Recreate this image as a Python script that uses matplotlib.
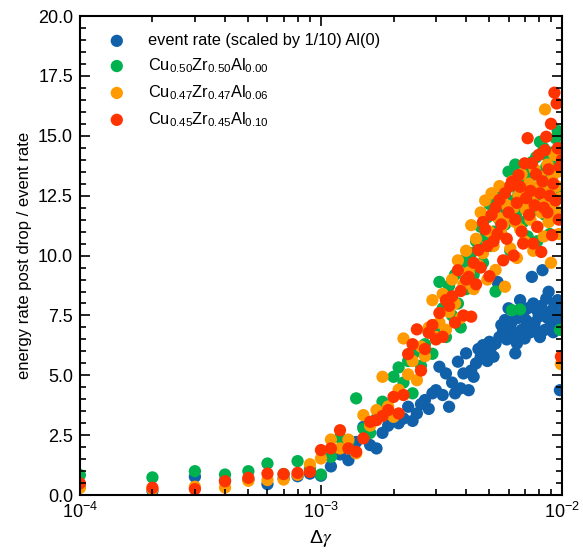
import numpy as np
import matplotlib
matplotlib.use('Agg')
import matplotlib.pyplot as plt
from matplotlib.ticker import MultipleLocator

plt.rcParams['font.family'] = ['Liberation Sans', 'DejaVu Sans']
plt.rcParams['mathtext.fontset'] = 'custom'
plt.rcParams['mathtext.rm'] = 'Liberation Sans'
plt.rcParams['mathtext.it'] = 'Liberation Sans:italic'
plt.rcParams['mathtext.bf'] = 'Liberation Sans:bold'

# strain steps: 1e-4 ... 1e-2 in steps of 1e-4
steps = np.arange(1, 101)
delta_gamma = steps * 1e-4

event_rate_al0 = [
    0.40, 0.18, 0.77, 0.60, 0.65, 0.46, 0.70, 0.79, 0.90, 0.81,
    1.20, 1.70, 1.46, 2.22, 2.85, 2.09, 1.95, 2.60, 2.90, 3.27,
    3.00, 3.20, 3.69, 3.10, 3.41, 3.80, 3.97, 3.60, 4.25, 4.38,
    5.36, 4.18, 5.08, 3.69, 4.70, 4.25, 5.57, 4.46, 5.08, 5.92,
    4.38, 5.20, 4.94, 5.50, 6.10, 5.78, 6.26, 6.00, 5.60, 6.40,
    6.20, 5.78, 6.33, 8.90, 6.60, 7.10, 6.89, 7.31, 6.50, 7.80,
    7.00, 7.24, 6.70, 5.92, 6.33, 7.40, 8.14, 6.90, 7.60, 6.54,
    7.30, 7.80, 7.03, 6.80, 9.11, 8.00, 7.20, 6.90, 7.70, 7.45,
    6.60, 7.90, 9.39, 7.59, 6.90, 8.20, 7.40, 8.49, 7.00, 7.31,
    7.72, 6.80, 8.00, 7.50, 7.17, 8.14, 6.95, 4.38, 7.60, 8.07,
]

cu50_al00 = [
    0.84, 0.74, 1.00, 0.86, 1.00, 1.32, 0.88, 1.42, 1.10, 0.86,
    1.60, 2.40, 2.20, 4.04, 2.78, 2.60, 3.20, 3.90, 3.40, 4.94,
    5.33, 4.70, 5.60, 4.25, 6.00, 5.40, 6.30, 6.80, 5.90, 7.00,
    8.90, 7.80, 6.60, 8.73, 7.50, 9.20, 8.00, 7.00, 9.80, 8.60,
    9.63, 10.10, 9.20, 10.60, 10.30, 11.20, 9.70, 10.80, 11.60, 12.15,
    10.40, 11.00, 8.50, 12.40, 11.50, 10.90, 12.00, 11.30, 12.80, 13.50,
    10.20, 7.72, 12.30, 13.80, 11.80, 12.60, 7.75, 13.10, 11.40, 12.90,
    13.60, 10.80, 12.20, 13.30, 13.90, 11.90, 12.70, 14.10, 10.60, 13.40,
    14.75, 12.40, 13.00, 14.48, 11.70, 13.70, 12.80, 14.06, 10.90, 13.20,
    14.30, 12.10, 13.60, 14.90, 11.60, 15.20, 13.80, 6.90, 12.50, 14.50,
]

cu47_al06 = [
    0.30, 0.25, 0.35, 0.32, 0.60, 0.63, 0.65, 0.85, 1.29, 1.53,
    2.32, 1.95, 2.32, 1.75, 3.34, 2.90, 3.55, 4.94, 3.70, 3.27,
    4.40, 6.54, 5.04, 5.60, 4.80, 6.20, 5.80, 7.00, 8.14, 6.60,
    7.20, 8.40, 6.90, 7.65, 9.00, 8.00, 9.80, 7.40, 8.80, 10.20,
    9.30, 11.27, 8.60, 10.70, 9.60, 11.80, 10.10, 12.30, 9.00, 11.00,
    12.60, 10.40, 9.40, 11.60, 12.90, 10.90, 11.30, 8.70, 12.10, 11.70,
    10.30, 13.10, 12.00, 11.40, 9.90, 12.50, 11.10, 13.40, 12.20, 10.60,
    11.90, 12.80, 13.00, 11.50, 12.40, 10.20, 13.60, 12.10, 11.20, 12.90,
    13.30, 11.80, 12.60, 10.80, 16.10, 12.30, 13.80, 11.40, 12.70, 9.70,
    13.20, 12.00, 14.20, 11.60, 12.90, 13.50, 10.90, 12.40, 5.47, 11.80,
]

cu45_al10 = [
    0.49, 0.31, 0.25, 0.58, 0.72, 0.90, 0.88, 0.93, 0.97, 1.88,
    1.95, 2.71, 1.95, 1.81, 2.37, 3.06, 3.13, 3.30, 3.55, 4.10,
    3.41, 4.18, 5.89, 6.30, 6.92, 5.20, 6.10, 6.78, 7.10, 6.50,
    7.60, 6.61, 8.14, 7.90, 8.30, 7.20, 9.39, 8.52, 7.50, 9.00,
    9.11, 7.45, 9.70, 8.80, 10.23, 9.50, 11.40, 11.10, 10.40, 9.14,
    11.70, 10.60, 12.00, 10.90, 12.32, 11.30, 9.80, 12.60, 10.70, 11.80,
    12.90, 13.08, 10.00, 11.50, 12.20, 13.36, 12.87, 11.00, 10.50, 13.85,
    12.40, 14.90, 11.70, 12.70, 13.85, 10.50, 12.10, 13.40, 11.20, 14.20,
    12.60, 10.15, 13.10, 12.00, 14.40, 14.96, 11.80, 13.60, 12.50, 15.50,
    10.85, 13.00, 16.80, 12.30, 16.35, 14.48, 11.50, 13.70, 5.78, 14.00,
]

series = [
    (event_rate_al0, '#1060aa', 'event rate (scaled by 1/10) Al(0)'),
    (cu50_al00, '#00b14f', r'Cu$_{0.50}$Zr$_{0.50}$Al$_{0.00}$'),
    (cu47_al06, '#ff9a00', r'Cu$_{0.47}$Zr$_{0.47}$Al$_{0.06}$'),
    (cu45_al10, '#ff3300', r'Cu$_{0.45}$Zr$_{0.45}$Al$_{0.10}$'),
]

fig = plt.figure(figsize=(5.83, 5.52), dpi=100)
ax = fig.add_axes([0.137, 0.103, 0.827, 0.868])

for values, color, label in series:
    ax.scatter(delta_gamma, values, s=78, color=color, label=label,
               edgecolors='none')

ax.set_xscale('log')
ax.set_xlim(1e-4, 1e-2)
ax.set_ylim(0, 20)
ax.yaxis.set_major_locator(MultipleLocator(2.5))
ax.yaxis.set_minor_locator(MultipleLocator(0.5))
ax.yaxis.set_major_formatter(plt.FormatStrFormatter('%.1f'))

ax.tick_params(which='both', direction='in', top=True, right=True,
               labelsize=13, width=1.2)
ax.tick_params(which='major', length=7, pad=5)
ax.tick_params(which='minor', length=4)
for spine in ax.spines.values():
    spine.set_linewidth(1.5)

# upright sans delta, italic serif gamma
ax.set_xlabel('\u0394$\\gamma$', fontsize=14, math_fontfamily='stix')
ax.set_ylabel('energy rate post drop / event rate', fontsize=12)

ax.legend(loc='upper left', frameon=False, fontsize=11.8,
          handletextpad=0.9, labelspacing=0.5, borderaxespad=0.5,
          scatterpoints=1, bbox_to_anchor=(0.012, 0.995))

plt.savefig('out.png', dpi=100)
